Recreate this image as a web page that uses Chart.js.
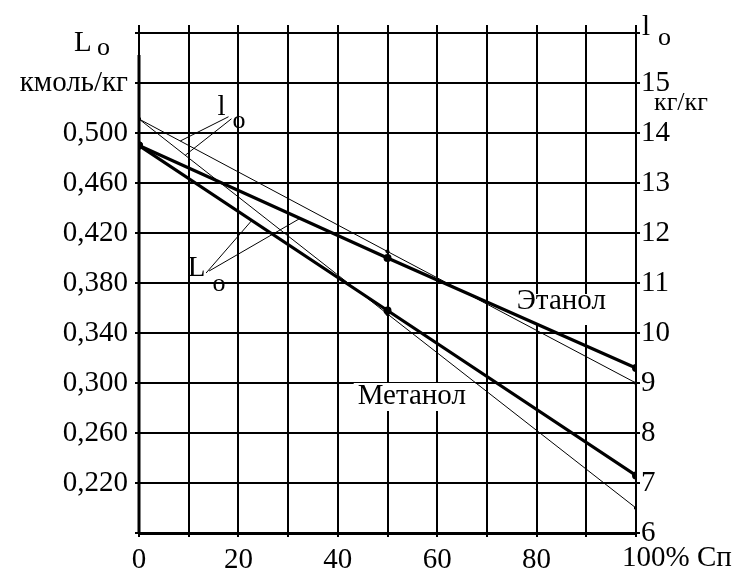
<!DOCTYPE html>
<html>
<head>
<meta charset="utf-8">
<script src="https://cdn.jsdelivr.net/npm/chart.js@4/dist/chart.umd.min.js"></script>
<style>
  body { margin: 0; background: #fff; }
  #wrap { width: 743px; height: 570px; }
</style>
</head>
<body>
<div id="wrap"><canvas id="fuelChart" width="743" height="570"></canvas></div>
<script>
// share of the substitute fuel, %
const pct = [0, 50, 100];
// L_o, kmol/kg (left axis)
const ethanolL = [0.490, 0.400, 0.312];
const methanolL = [0.490, 0.358, 0.226];
// l_o, kg/kg (right axis)
const ethanolLo = [14.28, 11.63, 9.0];
const methanolLo = [14.28, 10.38, 6.5];

const leftTicks = [0.22, 0.26, 0.30, 0.34, 0.38, 0.42, 0.46, 0.50];
const rightTicks = [6, 7, 8, 9, 10, 11, 12, 13, 14, 15];
const xTicks = [0, 20, 40, 60, 80];

const serif = '"Liberation Serif", "Times New Roman", serif';
const font29 = { family: serif, size: 29 };

// value of a series at x, straight line between the points
function valueAt(xs, ys, x) {
    for (let i = 1; i < xs.length; i++) {
        if (x <= xs[i]) {
            const t = (x - xs[i - 1]) / (xs[i] - xs[i - 1]);
            return ys[i - 1] + t * (ys[i] - ys[i - 1]);
        }
    }
    return ys[ys.length - 1];
}

function sameTick(list, v, eps) {
    return list.some(t => Math.abs(t - v) < eps);
}

// labels, leader lines and the bits of frame chart.js does not draw
const extras = {
    id: 'extras',
    beforeDatasetsDraw(chart) {
        const c = chart.ctx;
        const x = chart.scales.x, y = chart.scales.y;
        c.save();
        c.fillStyle = '#fff';
        // clear the grid behind the curve names
        c.fillRect(x.getPixelForValue(73), y.getPixelForValue(0.3712), 122, 31);
        c.fillRect(x.getPixelForValue(43.2), y.getPixelForValue(0.3000), 122, 28);
        c.restore();
    },
    afterDatasetsDraw(chart) {
        const c = chart.ctx;
        const x = chart.scales.x, y = chart.scales.y, y1 = chart.scales.y1;
        const area = chart.chartArea;
        c.save();
        c.strokeStyle = '#000';
        c.fillStyle = '#000';

        // grid lines run a little above the top edge
        c.lineWidth = 2;
        for (let v = 0; v <= 100; v += 10) {
            const px = Math.round(x.getPixelForValue(v));
            c.beginPath();
            c.moveTo(px, area.top - 8);
            c.lineTo(px, area.top);
            c.stroke();
        }
        // heavy part of the left axis
        c.lineWidth = 3;
        c.beginPath();
        c.moveTo(area.left, area.top + 22);
        c.lineTo(area.left, area.bottom + 1);
        c.stroke();

        // leader lines
        c.lineWidth = 1;
        const seg = (x0, y0, x1, y1p) => {
            c.beginPath();
            c.moveTo(x0, y0);
            c.lineTo(x1, y1p);
            c.stroke();
        };
        const lx = x.getPixelForValue(16.8), ly = y.getPixelForValue(0.5130);
        seg(lx + 6, ly, x.getPixelForValue(8.3), y1.getPixelForValue(valueAt(pct, ethanolLo, 8.3)));
        seg(lx + 9, ly + 2, x.getPixelForValue(9.3), y1.getPixelForValue(valueAt(pct, methanolLo, 9.3)));
        const Lx = x.getPixelForValue(13.5), Ly = y.getPixelForValue(0.3880);
        seg(Lx, Ly, x.getPixelForValue(22.7), y.getPixelForValue(valueAt(pct, methanolL, 22.7)));
        seg(Lx + 3, Ly - 2, x.getPixelForValue(32.4), y.getPixelForValue(valueAt(pct, ethanolL, 32.4)));

        c.textBaseline = 'alphabetic';
        c.textAlign = 'left';
        // l_o near the thin lines
        c.font = '29px ' + serif;
        c.fillText('l', x.getPixelForValue(15.8), y.getPixelForValue(0.5144));
        c.font = '26px ' + serif;
        c.fillText('o', x.getPixelForValue(18.8), y.getPixelForValue(0.5040));
        // L_o near the thick lines
        c.font = '29px ' + serif;
        c.fillText('L', x.getPixelForValue(9.8), y.getPixelForValue(0.3856));
        c.font = '26px ' + serif;
        c.fillText('o', x.getPixelForValue(14.8), y.getPixelForValue(0.3736));

        // curve names
        c.font = '29px ' + serif;
        c.fillText('Этанол', x.getPixelForValue(76), y.getPixelForValue(0.3592));
        c.fillText('Метанол', x.getPixelForValue(44), y.getPixelForValue(0.2832));

        // axis titles
        c.font = '29px ' + serif;
        c.fillText('L', 74, 51);
        c.font = '26px ' + serif;
        c.fillText('o', 97, 55);
        c.font = '29px ' + serif;
        c.fillText('l', area.right + 6, 35);
        c.font = '26px ' + serif;
        c.fillText('o', area.right + 22, 45);
        c.font = '26px ' + serif;
        c.fillText('кг/кг', area.right + 18, 110);

        // last x label with the unit
        c.font = '29px ' + serif;
        c.textBaseline = 'middle';
        c.fillText('100% Сп', x.getPixelForValue(100) - 14, 558);
        c.restore();
    }
};

const ctx = document.getElementById('fuelChart').getContext('2d');

new Chart(ctx, {
    type: 'line',
    data: {
        datasets: [
            {
                label: 'L_o этанол',
                data: pct.map((p, i) => ({ x: p, y: ethanolL[i] })),
                yAxisID: 'y',
                borderColor: '#000',
                backgroundColor: '#000',
                borderWidth: 3.2,
                pointRadius: 2.4,
                tension: 0
            },
            {
                label: 'L_o метанол',
                data: pct.map((p, i) => ({ x: p, y: methanolL[i] })),
                yAxisID: 'y',
                borderColor: '#000',
                backgroundColor: '#000',
                borderWidth: 3.2,
                pointRadius: 2.4,
                tension: 0
            },
            {
                label: 'l_o этанол',
                data: pct.map((p, i) => ({ x: p, y: ethanolLo[i] })),
                yAxisID: 'y1',
                borderColor: '#000',
                backgroundColor: '#000',
                borderWidth: 1,
                pointRadius: 1.6,
                tension: 0
            },
            {
                label: 'l_o метанол',
                data: pct.map((p, i) => ({ x: p, y: methanolLo[i] })),
                yAxisID: 'y1',
                borderColor: '#000',
                backgroundColor: '#000',
                borderWidth: 1,
                pointRadius: 1.6,
                tension: 0
            }
        ]
    },
    options: {
        responsive: false,
        animation: false,
        layout: { padding: { top: 33, left: 0, right: 0, bottom: 0 } },
        plugins: {
            legend: { display: false },
            tooltip: { enabled: false }
        },
        scales: {
            x: {
                type: 'linear',
                min: 0,
                max: 100,
                ticks: {
                    stepSize: 10,
                    autoSkip: false,
                    maxRotation: 0,
                    padding: 6,
                    color: '#000',
                    font: font29,
                    callback: v => sameTick(xTicks, v, 0.01) ? String(v) : ''
                },
                grid: { color: '#000', lineWidth: 2, tickLength: 4 },
                border: { color: '#000', width: 3 },
                afterFit: s => { s.height = 37; }
            },
            y: {
                position: 'left',
                min: 0.18,
                max: 0.58,
                ticks: {
                    stepSize: 0.04,
                    padding: 7,
                    color: '#000',
                    font: font29,
                    callback: v => {
                        if (Math.abs(v - 0.54) < 0.001) return 'кмоль/кг';
                        return sameTick(leftTicks, v, 0.001) ? v.toFixed(3).replace('.', ',') : '';
                    }
                },
                grid: { color: '#000', lineWidth: 2, tickLength: 4 },
                border: { color: '#000', width: 1 },
                afterFit: s => { s.width = 139; }
            },
            y1: {
                position: 'right',
                min: 6,
                max: 16,
                ticks: {
                    stepSize: 1,
                    padding: 1,
                    color: '#000',
                    font: font29,
                    callback: v => sameTick(rightTicks, v, 0.01) ? String(v) : ''
                },
                grid: { drawOnChartArea: false, color: '#000', lineWidth: 2, tickLength: 4 },
                border: { color: '#000', width: 1.5 },
                afterFit: s => { s.width = 107; }
            }
        }
    },
    plugins: [extras]
});
</script>
</body>
</html>
